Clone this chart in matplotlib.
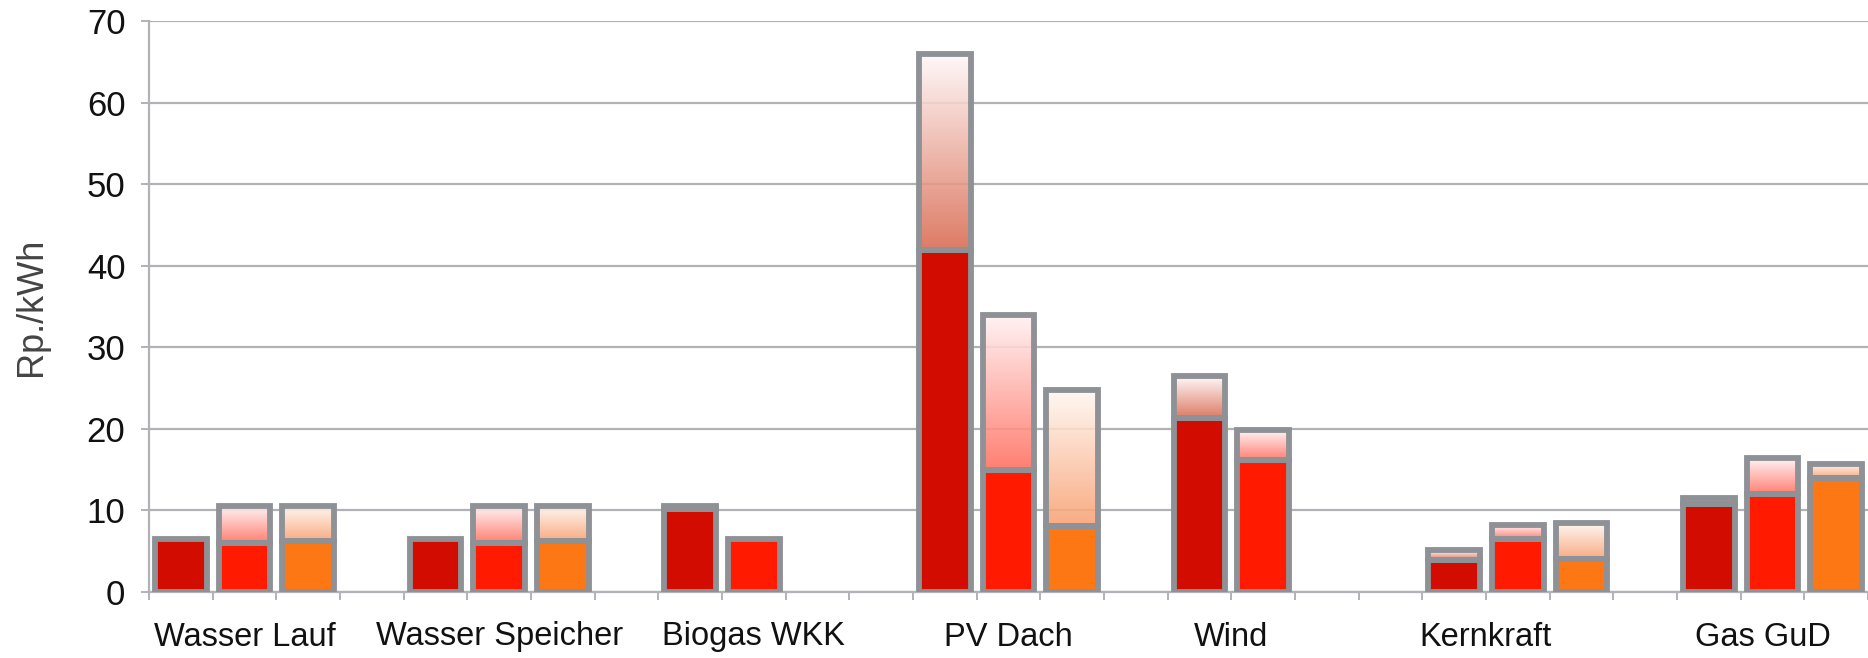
import numpy as np
import matplotlib
matplotlib.use("Agg")
import matplotlib.pyplot as plt
from matplotlib.colors import to_rgba
from matplotlib.transforms import blended_transform_factory

# ---- data ----
categories = ['Wasser Lauf', 'Wasser Speicher', 'Biogas WKK', 'PV Dach', 'Wind', 'Kernkraft', 'Gas GuD']
# lower (solid) values and upper (range) values per series
low_a = [6.5, 6.5, 10.1, 41.9, 21.3, 3.9, 10.7]
high_a = [6.5, 6.5, 10.5, 66.0, 26.4, 5.1, 11.5]
low_b = [6.0, 6.0, 6.45, 14.9, 16.2, 6.5, 12.0]
high_b = [10.5, 10.5, 6.45, 34.0, 19.8, 8.2, 16.4]
low_c = [6.2, 6.2, np.nan, 8.05, np.nan, 3.95, 13.9]
high_c = [10.5, 10.5, np.nan, 24.8, np.nan, 8.45, 15.65]
yticks = [0, 10, 20, 30, 40, 50, 60, 70]

lows = [low_a, low_b, low_c]
highs = [high_a, high_b, high_c]

# ---- style ----
solid_colors = ['#d20d00', '#ff1a00', '#fd7815']
grad_top = ['#fff8f8', '#fff2f4', '#fff8f2']
grad_bottom = ['#d9694f', '#ff6e5e', '#f9a072']
edge = '#8e9196'
grid_c = '#b0b2b6'
font = ['Liberation Sans', 'DejaVu Sans']
fs = 23.5

W, H, DPI = 1868, 658, 100
fig = plt.figure(figsize=(W / DPI, H / DPI), dpi=DPI)
left = 149 / W
bottom = 1 - 591.7 / H
top = 1 - 21 / H
ax = fig.add_axes([left, bottom, 1.0 - left, top - bottom])

slots_per_group = 4
bar_w = 0.81
lw = 4.2

for s in range(3):
    for c in range(len(categories)):
        lo = lows[s][c]
        hi = highs[s][c]
        if np.isnan(lo):
            continue
        x = c * slots_per_group + s
        ax.bar(x, lo, width=bar_w, color=solid_colors[s], edgecolor=edge,
               linewidth=lw, zorder=3, joinstyle='miter')
        if hi > lo:
            n = 128
            t = np.linspace(0, 1, n)[:, None]  # 0 bottom -> 1 top
            cb = np.array(to_rgba(grad_bottom[s]))
            ct = np.array(to_rgba(grad_top[s]))
            img = (cb * (1 - t) + ct * t)[:, None, :]
            img[..., 3] = 0.88
            ax.imshow(img, extent=[x - bar_w / 2, x + bar_w / 2, lo, hi],
                      origin='lower', aspect='auto', zorder=2.5,
                      interpolation='bilinear')
            ax.bar(x, hi - lo, bottom=lo, width=bar_w, facecolor='none',
                   edgecolor=edge, linewidth=lw, zorder=3, joinstyle='miter')

ax.set_xlim(-0.5, 26.45)
ax.set_ylim(0, 70)
ax.set_aspect('auto')

# grid
ax.set_yticks(yticks)
ax.yaxis.grid(True, color=grid_c, linewidth=1.6, zorder=0)
ax.set_axisbelow(True)
ax.tick_params(axis='y', length=6, width=1.4, color=grid_c, pad=11,
               labelsize=25, labelcolor='#111111')
for lab in ax.get_yticklabels():
    lab.set_family(font)

# x ticks at slot boundaries
n_slots = slots_per_group * len(categories) - 1
ax.set_xticks(np.arange(-0.5, n_slots + 0.5, 1.0))
ax.set_xticklabels([])
ax.tick_params(axis='x', which='major', length=6, width=1.4, color=grid_c, direction='out')

# category labels
label_pos = [1, 5, 9, 13, 16.5, 20.5, 24.85]
tr = blended_transform_factory(ax.transData, ax.transAxes)
label_y = (591.7 - 637) / (591.7 - 21)
for xp, name in zip(label_pos, categories):
    ax.text(xp, label_y, name, transform=tr, ha='center', va='center',
            fontsize=fs, color='#111111', family=font, clip_on=False)

for sp in ['top', 'right']:
    ax.spines[sp].set_visible(False)
for sp in ['left', 'bottom']:
    ax.spines[sp].set_color(grid_c)
    ax.spines[sp].set_linewidth(1.6)

fig.text(31 / W, bottom + (top - bottom) / 2, 'Rp./kWh', rotation=90, ha='center', va='center',
         fontsize=26, color='#444444', family=font)

fig.savefig('out.png', dpi=DPI)
